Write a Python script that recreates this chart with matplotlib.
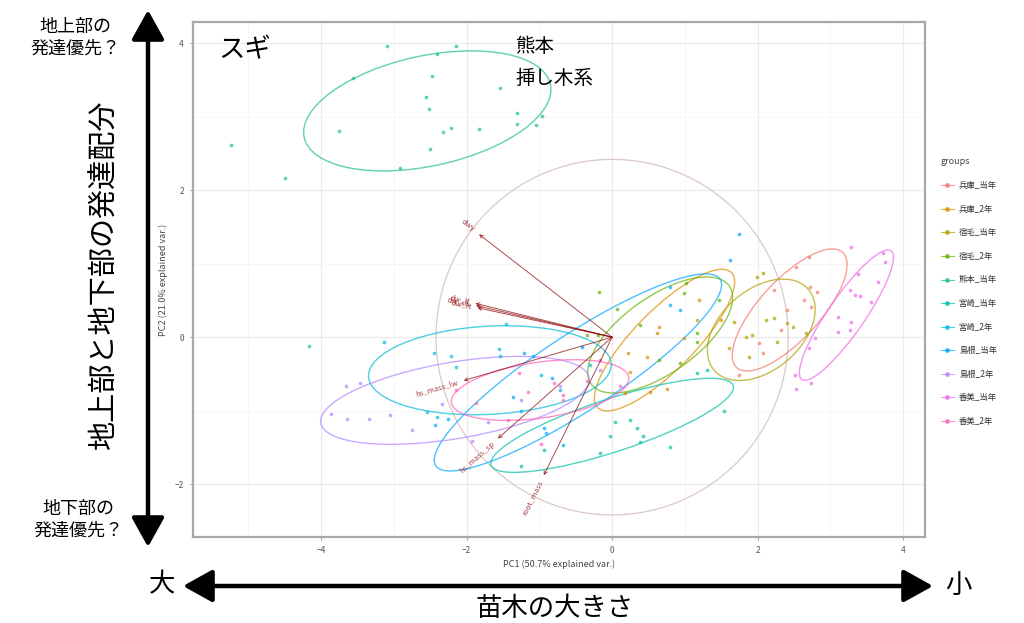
import matplotlib
matplotlib.use('Agg')
import matplotlib.pyplot as plt
from matplotlib.patches import Ellipse, FancyArrowPatch
from matplotlib.lines import Line2D
import numpy as np

plt.rcParams['font.family'] = ['Noto Sans CJK JP', 'DejaVu Sans']

# groups and ggplot hue colours
groups = ['兵庫_当年', '兵庫_2年', '宿毛_当年', '宿毛_2年', '熊本_当年', '宮崎_当年',
          '宮崎_2年', '島根_当年', '島根_2年', '香美_当年', '香美_2年']
colors = ['#F8766D', '#DB8E00', '#AEA200', '#64B200', '#1DBF8A', '#00C1A7',
          '#00BADE', '#00A6FF', '#B385FF', '#EF67EB', '#FF63B6']

# PC scores (PC1, PC2)
hyogo_t = [(2.81, 0.61), (2.72, 0.68), (2.74, 0.41), (2.02, -0.08), (2.08, -0.22), (2.40, 0.37),
           (2.53, 0.96), (2.70, 1.09), (1.74, -0.51), (2.64, 0.51), (2.32, 0.10), (2.22, 0.64)]
hyogo_2 = [(0.61, 0.05), (0.65, 0.14), (0.22, -0.22), (0.48, -0.27), (1.17, 0.23), (0.99, -0.01),
           (0.25, -0.48), (0.52, -0.75), (0.76, -0.70), (1.50, 0.23), (0.18, -0.76), (1.20, 0.51)]
sukumo_t = [(2.11, 0.23), (2.22, 0.26), (2.40, 0.19), (2.49, 0.14), (1.92, 0.03), (1.84, 0.00),
            (1.61, -0.15), (2.26, -0.07), (1.99, 0.82), (2.08, 0.87), (1.68, 0.20), (2.66, 0.05),
            (1.88, -0.27)]
sukumo_2 = [(-0.18, 0.61), (0.07, 0.38), (1.16, 0.05), (0.99, 0.60), (1.02, 0.74), (0.65, -0.31),
            (-0.34, 0.03), (-0.20, 0.03), (1.16, -0.07), (0.93, -0.35), (0.38, 0.16), (1.47, 0.51)]
kumamoto_t = [(-3.10, 3.97), (-2.14, 3.97), (-2.41, 3.86), (-3.56, 3.53), (-2.47, 3.55), (-1.54, 3.39),
              (-2.56, 3.27), (-2.52, 3.11), (-1.31, 3.05), (-0.96, 3.01), (-1.31, 2.90), (-1.05, 2.89),
              (-3.75, 2.80), (-2.22, 2.85), (-2.33, 2.79), (-1.83, 2.84), (-2.50, 2.56), (-2.91, 2.30),
              (-5.24, 2.62), (-4.49, 2.17), (-4.17, -0.12)]
miyazaki_t = [(0.04, -1.16), (0.25, -1.13), (0.34, -1.23), (0.42, -1.34), (-0.03, -1.34), (0.38, -1.43),
              (0.79, -1.50), (-0.94, -1.54), (-0.16, -1.58), (1.54, -1.00), (1.17, -0.49), (1.31, -0.45),
              (-1.25, -1.75)]
miyazaki_2 = [(-3.13, -0.07), (-2.45, -0.22), (-2.21, -0.26), (-1.55, -0.16), (-1.54, -0.25), (-1.46, 0.18),
              (-2.14, -0.41), (-2.55, -1.02), (-2.41, -1.09), (-0.98, -0.52), (-0.71, -0.72), (-0.30, -0.38)]
shimane_t = [(0.79, 0.68), (0.79, 0.44), (0.93, 0.37), (-0.41, -0.14), (-1.21, -0.22), (-1.09, -0.25),
             (-0.94, -1.24), (-0.91, -1.30), (-0.82, -0.55), (-1.36, -0.82), (-0.67, -1.47), (-1.25, -1.00),
             (1.74, 1.41), (1.62, 1.05), (-2.25, -1.11), (-2.44, -1.20)]
shimane_2 = [(-3.66, -0.67), (-3.47, -0.63), (-3.87, -1.04), (-3.64, -1.12), (-3.34, -1.12), (-3.05, -1.06),
             (-2.34, -0.91), (-1.70, -1.16), (-1.25, -0.86), (-0.71, -0.66), (-1.93, -1.41), (-2.75, -1.27),
             (-0.16, -0.45)]
kami_t = [(3.72, 1.15), (3.75, 1.02), (3.65, 0.75), (3.38, 0.86), (3.27, 0.64), (3.34, 0.57),
          (3.41, 0.56), (3.56, 0.48), (3.11, 0.27), (3.28, 0.20), (3.11, 0.07), (3.27, 0.10),
          (2.79, -0.01), (2.70, -0.15), (2.52, -0.52), (2.53, -0.70), (2.74, -0.63), (3.28, 1.23)]
kami_2 = [(-1.28, -0.49), (-1.16, -0.75), (-0.67, -0.79), (-0.67, -0.86), (-0.80, -0.63), (-1.87, -0.89),
          (-1.43, -1.13), (-0.34, -0.59), (-0.98, -1.45), (-0.16, -0.31), (0.11, -0.66), (-2.14, -0.72)]

scores = [hyogo_t, hyogo_2, sukumo_t, sukumo_2, kumamoto_t, miyazaki_t,
          miyazaki_2, shimane_t, shimane_2, kami_t, kami_2]

# group ellipses: centre, semi axes, angle (deg)
ell_cx = [2.44, 0.72, 2.05, 0.66, -2.54, 0.00, -1.68, -0.47, -2.16, 3.22, -0.99]
ell_cy = [0.37, -0.04, 0.10, 0.03, 3.08, -1.20, -0.45, -0.48, -0.86, 0.30, -0.72]
ell_a = [1.07, 1.30, 0.85, 1.16, 1.73, 1.75, 1.67, 2.33, 1.87, 1.07, 1.23]
ell_b = [0.41, 0.41, 0.55, 0.52, 0.75, 0.36, 0.60, 0.52, 0.52, 0.25, 0.38]
ell_ang = [47, 45, 40, 35, 12, 18, 3, 33, 9.5, 55, 8]

# variable loadings (arrow tips)
var_names = ['dwy', 'dw_lf', 'dw_sh', 'dw_rt', 'hs_mass_lw', 'hs_mass_sp', 'root_mass']
var_x = [-1.83, -1.88, -1.87, -1.85, -2.04, -1.57, -0.94]
var_y = [1.40, 0.46, 0.43, 0.40, -0.59, -1.38, -1.88]
circle_r = 2.42

fig = plt.figure(figsize=(10.24, 6.23), dpi=100)
ax = fig.add_axes([193 / 1024, 1 - 537 / 623, 732 / 1024, 515 / 623])
ax.set_xlim(-5.76, 4.30)
ax.set_ylim(-2.72, 4.29)

ax.set_xticks([-4, -2, 0, 2, 4])
ax.set_yticks([-2, 0, 2, 4])
ax.set_xticks([-5, -3, -1, 1, 3], minor=True)
ax.set_yticks([-1, 1, 3], minor=True)
ax.grid(which='major', color='#ebebeb', lw=0.9)
ax.grid(which='minor', color='#f5f5f5', lw=0.6)
ax.set_axisbelow(True)
for s in ax.spines.values():
    s.set_color('#a8a8a8')
    s.set_linewidth(1.6)
ax.tick_params(which='both', length=0, labelsize=6, labelcolor='#555555', pad=4)
ax.tick_params(which='major', length=2.5, color='#a8a8a8')
ax.set_xlabel('PC1 (50.7% explained var.)', fontsize=6.5, color='#444444', labelpad=3)
ax.set_ylabel('PC2 (21.0% explained var.)', fontsize=6.5, color='#444444', labelpad=5)

# correlation circle
t = np.linspace(0, 2 * np.pi, 300)
ax.plot(circle_r * np.cos(t), circle_r * np.sin(t), color='#dcc8c8', lw=0.9, zorder=1)

for pts, c in zip(scores, colors):
    p = np.array(pts)
    ax.scatter(p[:, 0], p[:, 1], s=7, color=c, alpha=0.7, lw=0, zorder=3)

for cx, cy, a, b, ang, c in zip(ell_cx, ell_cy, ell_a, ell_b, ell_ang, colors):
    ax.add_patch(Ellipse((cx, cy), 2 * a, 2 * b, angle=ang, fill=False, ec=c, lw=1.0,
                         alpha=0.7, zorder=2))

for name, vx, vy in zip(var_names, var_x, var_y):
    ax.annotate('', xy=(vx, vy), xytext=(0, 0),
                arrowprops=dict(arrowstyle='->', color='#8B0000', lw=0.7, alpha=0.7,
                                mutation_scale=6, shrinkA=0, shrinkB=0), zorder=4)
    ang = np.degrees(np.arctan(vy / vx))
    ax.text(vx * 1.04, vy * 1.04, name, rotation=ang, rotation_mode='anchor',
            ha='right' if vx < 0 else 'left', va='center', fontsize=5.5,
            color='#8B0000', alpha=0.75, zorder=5)

handles = [Line2D([0], [0], color=c, lw=0.8, marker='o', markersize=2.5, alpha=0.7) for c in colors]
leg = ax.legend(handles, groups, title='groups', loc='upper left', frameon=False,
                bbox_to_anchor=(933 / 1024, 1 - 150 / 623), bbox_transform=fig.transFigure,
                fontsize=6, title_fontsize=6.5, labelspacing=1.75, handlelength=1.6,
                handletextpad=0.6)
leg._legend_box.align = 'left'
for txt in leg.get_texts():
    txt.set_color('#333333')
leg.get_title().set_color('#444444')

# annotations around the plot
fig.text(218 / 1024, 1 - 50 / 623, 'スギ', fontsize=19, va='center', ha='left')
fig.text(515 / 1024, 1 - 46 / 623, '熊本', fontsize=14, va='center')
fig.text(515 / 1024, 1 - 78 / 623, '挿し木系', fontsize=14, va='center')

fig.text(75 / 1024, 1 - 38 / 623, '地上部の\n発達優先？', fontsize=13, ha='center', va='center',
         linespacing=1.25)
fig.text(78 / 1024, 1 - 520 / 623, '地下部の\n発達優先？', fontsize=13, ha='center', va='center',
         linespacing=1.25)
fig.text(105 / 1024, 1 - 275 / 623, '地上部と地下部の発達配分', fontsize=21, rotation=90,
         ha='center', va='center')
fig.text(555 / 1024, 1 - 608 / 623, '苗木の大きさ', fontsize=19, ha='center', va='center')
fig.text(162 / 1024, 1 - 585 / 623, '大', fontsize=19, ha='center', va='center')
fig.text(958 / 1024, 1 - 585 / 623, '小', fontsize=19, ha='center', va='center')

arr_kw = dict(transform=fig.transFigure, arrowstyle='<|-|>,head_length=0.9,head_width=0.5',
              mutation_scale=20, lw=3.2, color='black', shrinkA=0, shrinkB=0)
fig.patches.append(FancyArrowPatch((148 / 1024, 1 - 10 / 623), (148 / 1024, 1 - 547 / 623), **arr_kw))
fig.patches.append(FancyArrowPatch((183 / 1024, 1 - 586 / 623), (933 / 1024, 1 - 586 / 623), **arr_kw))

fig.savefig('out.png', dpi=100)
